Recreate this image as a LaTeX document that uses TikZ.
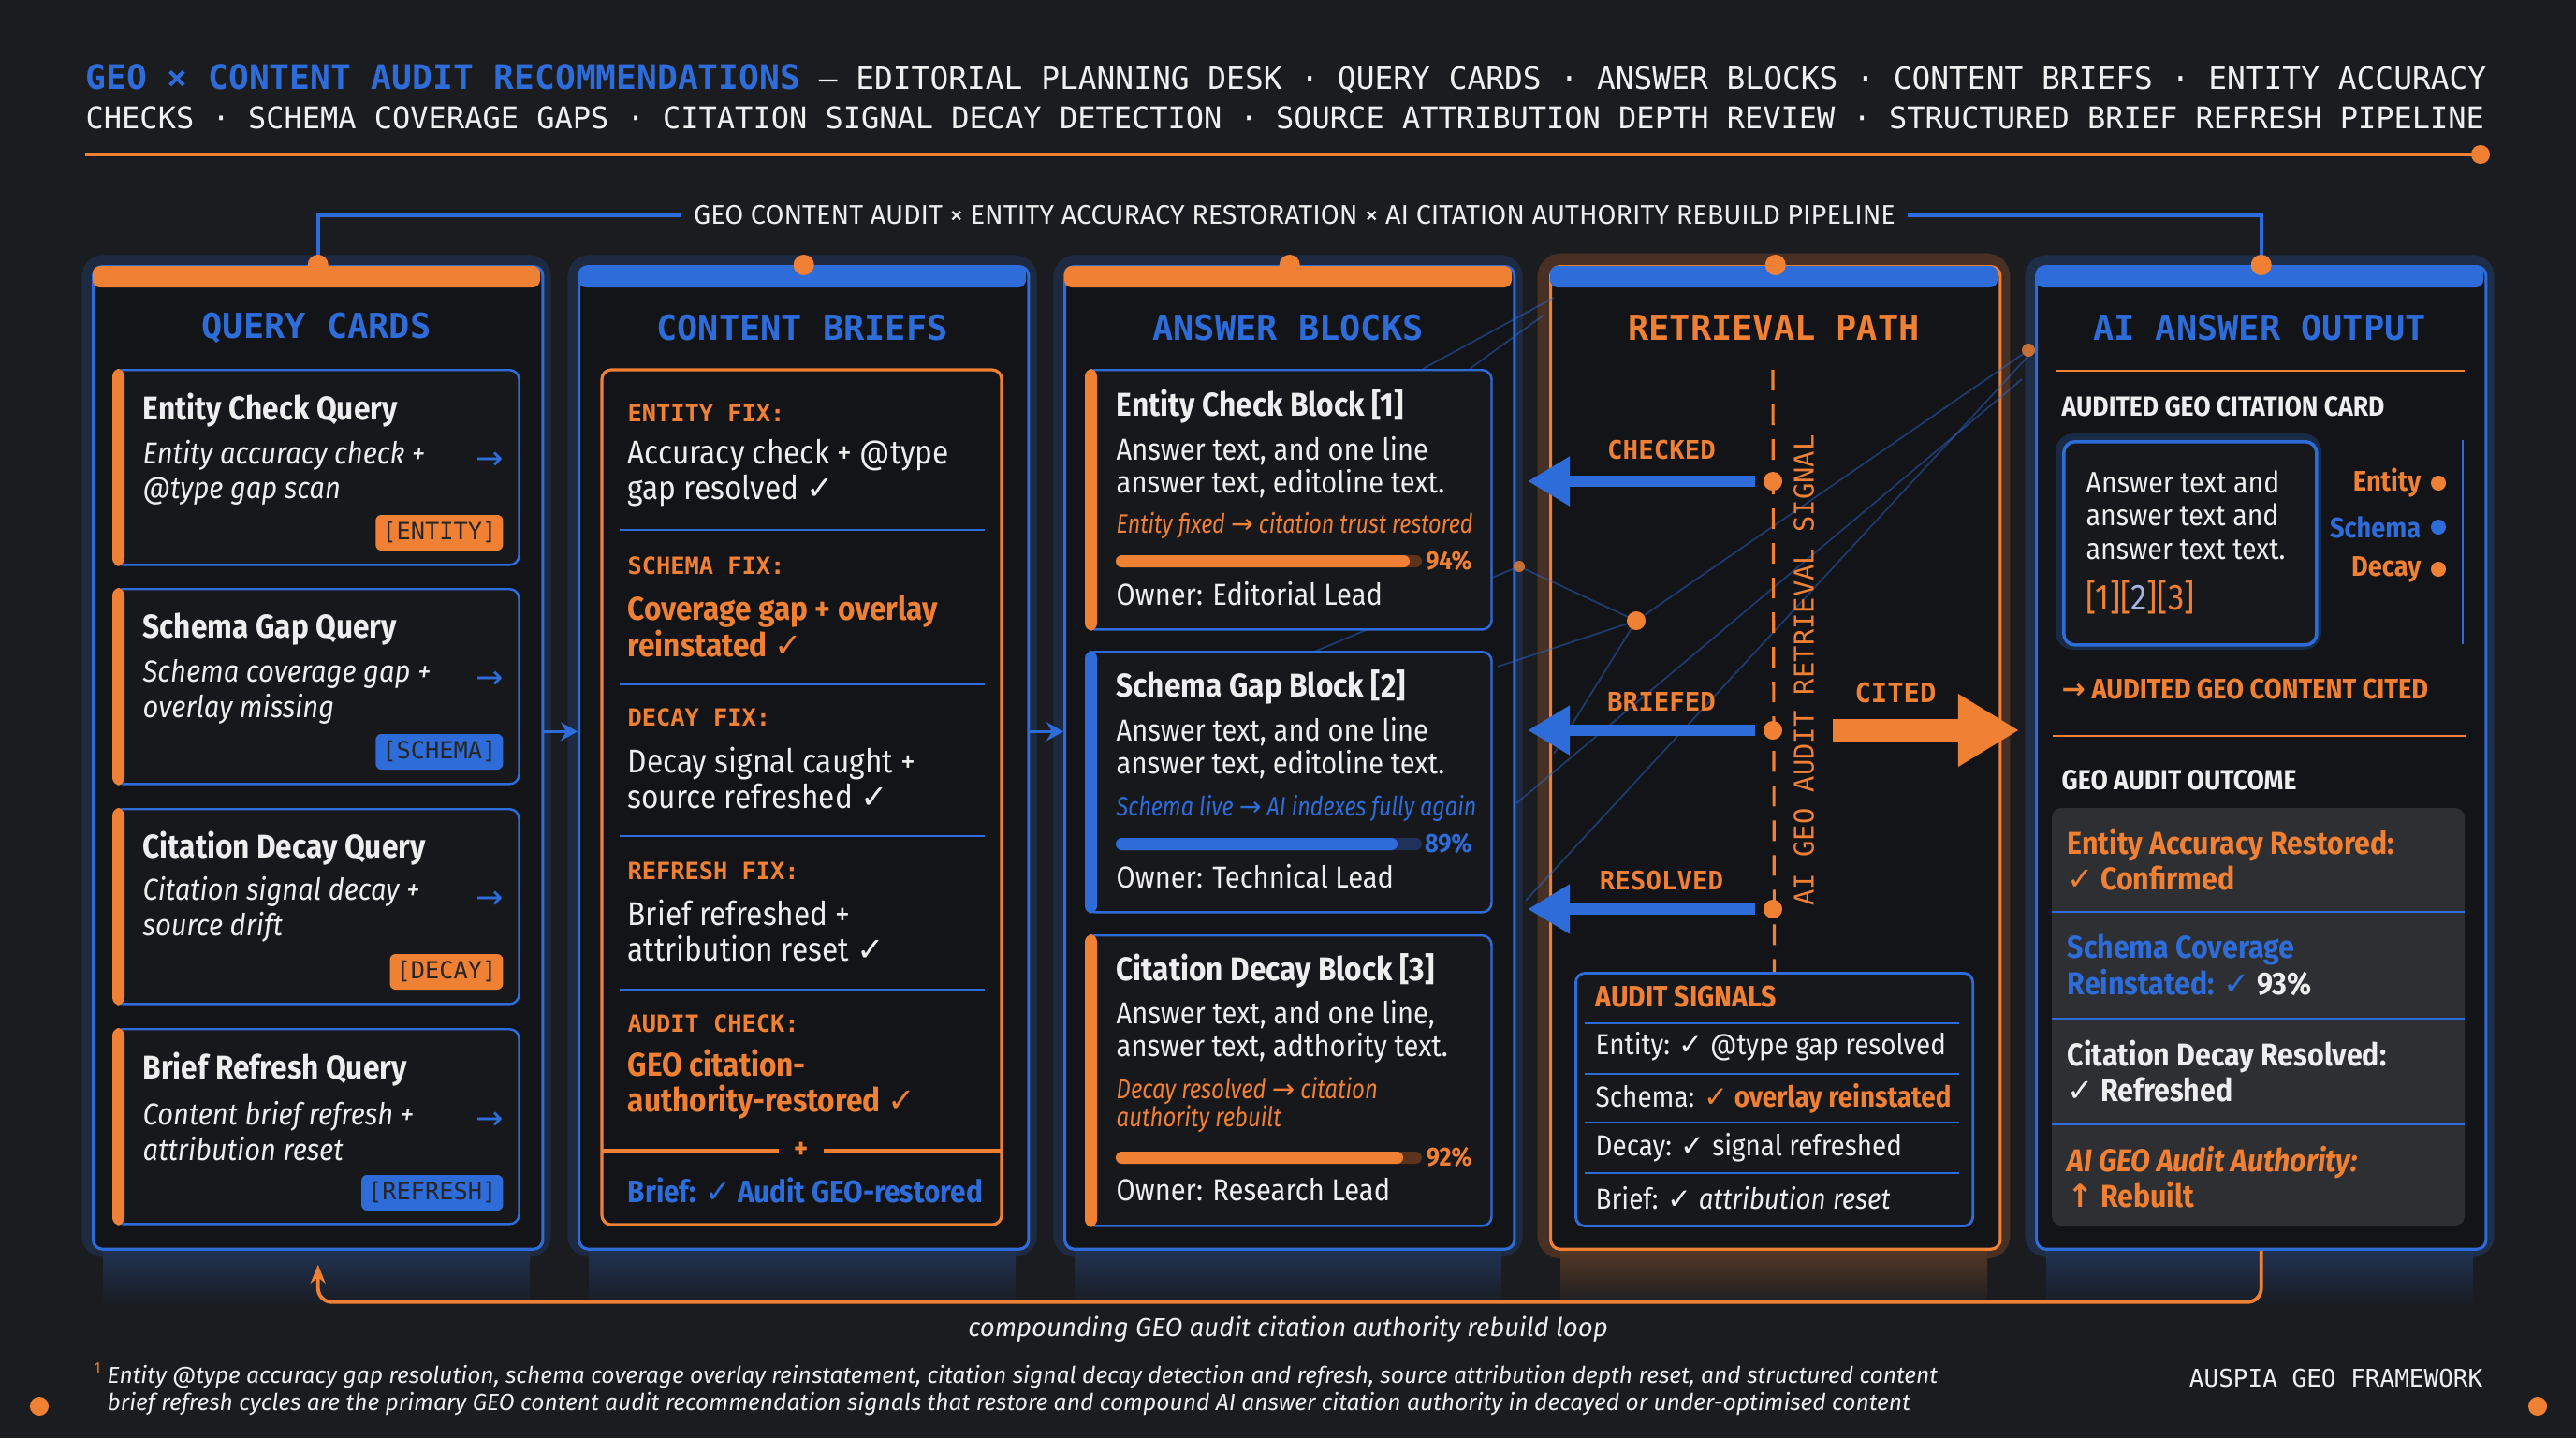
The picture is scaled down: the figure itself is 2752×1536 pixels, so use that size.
\documentclass[tikz,border=0pt]{standalone}
\usepackage{fontspec}
\setmainfont{Fira Sans}[FakeStretch=0.9]
\setmonofont{DejaVu Sans Mono}
\newfontfamily\symfont{DejaVu Sans}
\newfontfamily\condfont{Fira Sans}[FakeStretch=0.82]
\newfontfamily\widefont{Fira Sans}
\usetikzlibrary{arrows.meta}
\usepackage{xcolor}
\definecolor{bgdark}{RGB}{26,28,32}
\definecolor{colbg}{RGB}{19,20,23}
\definecolor{cardbg}{RGB}{23,24,27}
\definecolor{geoorange}{RGB}{240,128,52}
\definecolor{geoblue}{RGB}{46,108,218}
\definecolor{txtwhite}{RGB}{238,238,238}
\definecolor{outgray}{RGB}{46,47,50}
\definecolor{lavender}{RGB}{165,178,222}
\definecolor{trackorange}{RGB}{92,52,30}
\definecolor{trackblue}{RGB}{32,50,92}

\newcommand{\fsz}[2]{\fontsize{#1}{#2}\selectfont}
\newcommand{\ck}{{\symfont ✓}}
\newcommand{\rarr}{{\symfont →}}
\newcommand{\uarr}{{\symfont ↑}}

\begin{document}
\begin{tikzpicture}[x=0.01cm, y=-0.01cm,
    txt/.style={anchor=west, inner sep=0pt, text=txtwhite},
    colshell/.style={anchor=north west, minimum width=4.8cm, minimum height=10.49cm, fill=colbg, rounded corners=0.1cm, line width=0.9pt},
    coltitle/.style={inner sep=0pt, font=\ttfamily\bfseries\fsz{10.5}{12}, text=geoblue},
    card/.style={anchor=north west, minimum width=4.33cm, fill=cardbg, draw=geoblue, line width=0.7pt, rounded corners=0.1cm},
    tag/.style={anchor=east, inner xsep=0.07cm, inner ysep=0pt, minimum height=0.38cm, rounded corners=0.06cm, font=\ttfamily\fsz{7.2}{8}, text=black!85},
    cardtitle/.style={txt, font=\bfseries\fsz{10}{12}},
    monolab/.style={txt, font=\ttfamily\bfseries\fsz{7.2}{9}, text=geoorange},
    divider/.style={geoblue, line width=0.6pt},
    netline/.style={geoblue, line width=0.5pt, opacity=0.45},
    dot/.style={circle, fill=geoorange, inner sep=0pt, minimum size=0.2cm},
    leftarrow/.style={geoblue, line width=3.4pt, -{Triangle[length=0.45cm, width=0.5cm]}},
    steplab/.style={font=\ttfamily\bfseries\fsz{7.8}{9}, text=geoorange, inner sep=0pt}]

    % Background
    \fill[bgdark] (0,0) rectangle (2752,1536);
    \useasboundingbox (0,0) rectangle (2752,1536);

    % Header
    \node[txt, anchor=base west, font=\ttfamily\fsz{9.35}{12}, text=txtwhite!90] (hdr1) at (91,95)
        {{\bfseries\color{geoblue}\fsz{10.3}{12}GEO × CONTENT AUDIT RECOMMENDATIONS} — EDITORIAL PLANNING DESK · QUERY CARDS · ANSWER BLOCKS · CONTENT BRIEFS · ENTITY ACCURACY};
    \node[txt, anchor=base west, font=\ttfamily\fsz{9.1}{12}, text=txtwhite!90] (hdr2) at (91,137)
        {CHECKS · SCHEMA COVERAGE GAPS · CITATION SIGNAL DECAY DETECTION · SOURCE ATTRIBUTION DEPTH REVIEW · STRUCTURED BRIEF REFRESH PIPELINE};
    \draw[geoorange, line width=1.4pt] (91,165) -- (2650,165);
    \fill[geoorange] (2650,165) circle (0.1cm);

    % Column glows
    \draw[geoblue, line width=6pt, opacity=0.18, rounded corners=0.12cm] (98,283) rectangle (578,1332);
    \draw[geoblue, line width=6pt, opacity=0.18, rounded corners=0.12cm] (617,283) rectangle (1097,1332);
    \draw[geoblue, line width=6pt, opacity=0.18, rounded corners=0.12cm] (1136,283) rectangle (1616,1332);
    \draw[geoorange, line width=7pt, opacity=0.22, rounded corners=0.12cm] (1655,283) rectangle (2135,1332);
    \draw[geoblue, line width=6pt, opacity=0.22, rounded corners=0.12cm] (2174,283) rectangle (2654,1332);
    \shade[top color=geoblue!28!bgdark, bottom color=bgdark] (110,1334) rectangle (566,1395);
    \shade[top color=geoblue!28!bgdark, bottom color=bgdark] (629,1334) rectangle (1085,1395);
    \shade[top color=geoblue!28!bgdark, bottom color=bgdark] (1148,1334) rectangle (1604,1395);
    \shade[top color=geoorange!28!bgdark, bottom color=bgdark] (1667,1334) rectangle (2123,1395);
    \shade[top color=geoblue!28!bgdark, bottom color=bgdark] (2186,1334) rectangle (2642,1395);

    % Columns
    \node[colshell, draw=geoblue] (col1) at (98,283) {};
    \node[colshell, draw=geoblue] (col2) at (617,283) {};
    \node[colshell, draw=geoblue] (col3) at (1136,283) {};
    \node[colshell, draw=geoorange] (col4) at (1655,283) {};
    \node[colshell, draw=geoblue] (col5) at (2174,283) {};
    \fill[geoorange, rounded corners=0.08cm] (99,284) rectangle (577,307);
    \fill[geoblue, rounded corners=0.08cm] (618,284) rectangle (1096,307);
    \fill[geoorange, rounded corners=0.08cm] (1137,284) rectangle (1615,307);
    \fill[geoblue, rounded corners=0.08cm] (1656,284) rectangle (2134,307);
    \fill[geoblue, rounded corners=0.08cm] (2175,284) rectangle (2653,307);

    % Pipeline banner
    \node[inner sep=0.12cm, font=\widefont\fsz{8.2}{10}, text=txtwhite] (banner) at (1383,230)
        {GEO CONTENT AUDIT × ENTITY ACCURACY RESTORATION × AI CITATION AUTHORITY REBUILD PIPELINE};
    \draw[geoblue, line width=1.1pt] (col1.north) |- (banner.west);
    \draw[geoblue, line width=1.1pt] (col5.north) |- (banner.east);
    \fill[geoorange] (col1.north) circle (0.11cm);
    \fill[geoorange] (col2.north) circle (0.11cm);
    \fill[geoorange] (col3.north) circle (0.11cm);
    \fill[geoorange] (col4.north) circle (0.11cm);
    \fill[geoorange] (col5.north) circle (0.11cm);

    % Column titles
    \node[coltitle] (t1) at (338,350) {QUERY CARDS};
    \node[coltitle] (t2) at (857,350) {CONTENT BRIEFS};
    \node[coltitle] (t3) at (1376,350) {ANSWER BLOCKS};
    \node[coltitle, text=geoorange] (t4) at (1895,350) {RETRIEVAL PATH};
    \node[coltitle] (t5) at (2414,350) {AI ANSWER OUTPUT};

    % Faint network lines
    \draw[netline] (2167,374) -- (1748,663);
    \draw[netline] (2167,380) -- (1630,962);
    \draw[netline] (2160,405) -- (1620,858);
    \draw[netline] (1748,663) -- (1623,605);
    \draw[netline] (1748,663) -- (1600,712);
    \draw[netline] (1748,663) -- (1660,805);
    \draw[netline] (1623,605) -- (1250,760);
    \draw[netline] (1660,318) -- (1520,394);
    \draw[netline] (1650,336) -- (1570,394);
    \fill[geoorange, opacity=0.8] (2167,374) circle (0.07cm);
    \fill[geoorange, opacity=0.8] (1623,605) circle (0.06cm);
    \fill[geoorange] (1748,663) circle (0.1cm);

    % Query cards
    \node[card, minimum height=2.08cm] (qc1) at (120,394) {};
    \fill[geoorange, rounded corners=0.08cm] (qc1.north west) rectangle ([xshift=0.13cm]qc1.south west);
    \node[cardtitle] (qt1) at (152,438) {Entity Check Query};
    \node[txt, align=left, font=\itshape\fsz{9.2}{10.7}] (qd1) at (152,505) {Entity accuracy check +\\@type gap scan};
    \node[txt, text=geoblue, font=\symfont\fsz{10}{12}] (qa1) at (508,492) {→};
    \node[tag, fill=geoorange] (qg1) at (538,569) {[ENTITY]};

    \node[card, minimum height=2.08cm] (qc2) at (120,628) {};
    \fill[geoorange, rounded corners=0.08cm] (qc2.north west) rectangle ([xshift=0.13cm]qc2.south west);
    \node[cardtitle] (qt2) at (152,672) {Schema Gap Query};
    \node[txt, align=left, font=\itshape\fsz{9.2}{10.7}] (qd2) at (152,739) {Schema coverage gap +\\overlay missing};
    \node[txt, text=geoblue, font=\symfont\fsz{10}{12}] (qa2) at (508,726) {→};
    \node[tag, fill=geoblue] (qg2) at (538,803) {[SCHEMA]};

    \node[card, minimum height=2.08cm] (qc3) at (120,863) {};
    \fill[geoorange, rounded corners=0.08cm] (qc3.north west) rectangle ([xshift=0.13cm]qc3.south west);
    \node[cardtitle] (qt3) at (152,906) {Citation Decay Query};
    \node[txt, align=left, font=\itshape\fsz{9.2}{10.7}] (qd3) at (152,971) {Citation signal decay +\\source drift};
    \node[txt, text=geoblue, font=\symfont\fsz{10}{12}] (qa3) at (508,961) {→};
    \node[tag, fill=geoorange] (qg3) at (538,1038) {[DECAY]};

    \node[card, minimum height=2.08cm] (qc4) at (120,1098) {};
    \fill[geoorange, rounded corners=0.08cm] (qc4.north west) rectangle ([xshift=0.13cm]qc4.south west);
    \node[cardtitle] (qt4) at (152,1142) {Brief Refresh Query};
    \node[txt, align=left, font=\itshape\fsz{9.2}{10.7}] (qd4) at (152,1208) {Content brief refresh +\\attribution reset};
    \node[txt, text=geoblue, font=\symfont\fsz{10}{12}] (qa4) at (508,1197) {→};
    \node[tag, fill=geoblue] (qg4) at (538,1274) {[REFRESH]};

    % Hand-offs between columns
    \draw[geoblue, line width=1pt, -{Stealth[length=0.18cm, width=0.2cm]}] ([yshift=0.28cm]col1.east) -- ([yshift=0.28cm]col2.west);
    \draw[geoblue, line width=1pt, -{Stealth[length=0.18cm, width=0.2cm]}] ([yshift=0.28cm]col2.east) -- ([yshift=0.28cm]col3.west);

    % Content briefs
    \draw[geoorange, line width=0.9pt, rounded corners=0.1cm] (643,395) rectangle (1070,1308);
    \node[monolab] (cl1) at (670,441) {ENTITY FIX:};
    \node[txt, align=left, font=\fsz{10}{11}] (cb1) at (670,505) {Accuracy check + @type\\gap resolved \ck};
    \draw[divider] (662,566) -- (1052,566);
    \node[monolab] (cl2) at (670,604) {SCHEMA FIX:};
    \node[txt, align=left, text=geoorange, font=\bfseries\fsz{10}{11}] (cb2) at (670,669) {Coverage gap + overlay\\reinstated \ck};
    \draw[divider] (662,731) -- (1052,731);
    \node[monolab] (cl3) at (670,766) {DECAY FIX:};
    \node[txt, align=left, font=\fsz{10}{11}] (cb3) at (670,831) {Decay signal caught +\\source refreshed \ck};
    \draw[divider] (662,893) -- (1052,893);
    \node[monolab] (cl4) at (670,930) {REFRESH FIX:};
    \node[txt, align=left, font=\fsz{10}{11}] (cb4) at (670,994) {Brief refreshed +\\attribution reset \ck};
    \draw[divider] (662,1057) -- (1052,1057);
    \node[monolab] (cl5) at (670,1093) {AUDIT CHECK:};
    \node[txt, align=left, text=geoorange, font=\bfseries\fsz{10}{11}] (cb5) at (670,1158) {GEO citation-\\authority-restored \ck};
    \node[inner sep=0pt, text=geoorange, font=\bfseries\fsz{9}{10}] (plus) at (856,1229) {+};
    \draw[geoorange, line width=0.9pt] (643,1229) -- (832,1229);
    \draw[geoorange, line width=0.9pt] (880,1229) -- (1070,1229);
    \node[txt, text=geoblue, font=\bfseries\fsz{9.4}{12}] (cbrief) at (670,1271) {Brief: \ck{} Audit GEO-restored};

    % Answer blocks
    \node[card, minimum height=2.77cm] (ab1) at (1159,394) {};
    \fill[geoorange, rounded corners=0.08cm] (ab1.north west) rectangle ([xshift=0.13cm]ab1.south west);
    \node[cardtitle] (abt1) at (1192,434) {Entity Check Block [1]};
    \node[txt, align=left, font=\fsz{9.2}{9.8}] (abx1) at (1192,499) {Answer text, and one line\\answer text, editoline text.};
    \node[txt, text=geoorange, font=\condfont\itshape\fsz{8.1}{10}] (abn1) at (1192,561) {Entity fixed \rarr{} citation trust restored};
    \fill[trackorange, rounded corners=0.065cm] (1192,593) rectangle (1519,606);
    \fill[geoorange, rounded corners=0.065cm] (1192,593) rectangle (1506,606);
    \node[anchor=east, inner sep=0pt, text=geoorange, font=\bfseries\fsz{8}{10}] (abp1) at (1573,599) {94\%};
    \node[txt, font=\fsz{9.2}{10}] (abo1) at (1192,634) {Owner: Editorial Lead};

    \node[card, minimum height=2.78cm] (ab2) at (1159,695) {};
    \fill[geoblue, rounded corners=0.08cm] (ab2.north west) rectangle ([xshift=0.13cm]ab2.south west);
    \node[cardtitle] (abt2) at (1192,734) {Schema Gap Block [2]};
    \node[txt, align=left, font=\fsz{9.2}{9.8}] (abx2) at (1192,799) {Answer text, and one line\\answer text, editoline text.};
    \node[txt, text=geoblue, font=\condfont\itshape\fsz{8.1}{10}] (abn2) at (1192,863) {Schema live \rarr{} AI indexes fully again};
    \fill[trackblue, rounded corners=0.065cm] (1192,895) rectangle (1519,908);
    \fill[geoblue, rounded corners=0.065cm] (1192,895) rectangle (1493,908);
    \node[anchor=east, inner sep=0pt, text=geoblue, font=\bfseries\fsz{8}{10}] (abp2) at (1573,901) {89\%};
    \node[txt, font=\fsz{9.2}{10}] (abo2) at (1192,936) {Owner: Technical Lead};

    \node[card, minimum height=3.10cm] (ab3) at (1159,998) {};
    \fill[geoorange, rounded corners=0.08cm] (ab3.north west) rectangle ([xshift=0.13cm]ab3.south west);
    \node[cardtitle] (abt3) at (1192,1037) {Citation Decay Block [3]};
    \node[txt, align=left, font=\fsz{9.2}{9.8}] (abx3) at (1192,1102) {Answer text, and one line,\\answer text, adthority text.};
    \node[txt, align=left, text=geoorange, font=\condfont\itshape\fsz{8.3}{8.6}] (abn3) at (1192,1180) {Decay resolved \rarr{} citation\\authority rebuilt};
    \fill[trackorange, rounded corners=0.065cm] (1192,1230) rectangle (1519,1243);
    \fill[geoorange, rounded corners=0.065cm] (1192,1230) rectangle (1499,1243);
    \node[anchor=east, inner sep=0pt, text=geoorange, font=\bfseries\fsz{8}{10}] (abp3) at (1573,1236) {92\%};
    \node[txt, font=\fsz{9.2}{10}] (abo3) at (1192,1271) {Owner: Research Lead};

    % Retrieval path
    \node[draw=geoblue, line width=0.8pt, fill=cardbg, rounded corners=0.1cm, anchor=north west,
          minimum width=4.24cm, minimum height=2.70cm] (sigbox) at (1682,1038) {};
    \coordinate (sigtop) at (1894,395);
    \draw[geoorange, line width=0.9pt, dash pattern=on 0.22cm off 0.15cm] (sigtop) -- (sigbox.north);
    \node[dot] (dck) at (1894,514) {};
    \node[dot] (dbr) at (1894,780) {};
    \node[dot] (drs) at (1894,971) {};
    \coordinate (ckend) at (1632,514);
    \coordinate (brend) at (1632,780);
    \coordinate (rsend) at (1632,971);
    \draw[leftarrow, shorten <=0.08cm] (dck) -- (ckend);
    \draw[leftarrow, shorten <=0.08cm] (dbr) -- (brend);
    \draw[leftarrow, shorten <=0.08cm] (drs) -- (rsend);
    \node[steplab] (lck) at (1775,481) {CHECKED};
    \node[steplab] (lbr) at (1775,749) {BRIEFED};
    \node[steplab] (lrs) at (1775,940) {RESOLVED};
    \node[rotate=90, inner sep=0pt, font=\ttfamily\fsz{8.2}{10}, text=geoorange] (sigtxt) at (1927,716) {AI GEO AUDIT RETRIEVAL SIGNAL};
    \node[steplab, font=\ttfamily\bfseries\fsz{8.2}{10}] (lct) at (2025,740) {CITED};
    \draw[geoorange, line width=7pt, -{Triangle[length=0.65cm, width=0.73cm]}, shorten <=0.53cm, shorten >=0.17cm] (dbr) -- (dbr -| col5.west);

    \node[txt, text=geoorange, font=\bfseries\fsz{9}{10}] (sgh) at (1704,1065) {AUDIT SIGNALS};
    \draw[divider] (1693,1093) -- (2093,1093);
    \node[txt, font=\fsz{8.8}{10}] (sg1) at (1704,1118) {Entity: \ck{} @type gap resolved};
    \draw[divider] (1693,1147) -- (2093,1147);
    \node[txt, font=\fsz{8.8}{10}] (sg2) at (1704,1173) {Schema: {\color{geoorange}\bfseries\ck{} overlay reinstated}};
    \draw[divider] (1693,1199) -- (2093,1199);
    \node[txt, font=\fsz{8.8}{10}] (sg3) at (1704,1226) {Decay: \ck{} signal refreshed};
    \draw[divider] (1693,1253) -- (2093,1253);
    \node[txt, font=\fsz{8.8}{10}] (sg4) at (1704,1280) {Brief: \ck{} \textit{attribution reset}};

    % AI answer output
    \draw[geoorange, line width=0.8pt] (2196,396) -- (2633,396);
    \node[txt, font=\bfseries\fsz{8.4}{10}] (cch) at (2202,434) {AUDITED GEO CITATION CARD};
    \draw[geoblue, opacity=0.25, line width=4pt, rounded corners=0.12cm] (2203,470) rectangle (2473,687);
    \node[draw=geoblue, line width=1pt, fill=cardbg, rounded corners=0.12cm, anchor=north west,
          minimum width=2.70cm, minimum height=2.17cm] (ccard) at (2203,470) {};
    \node[txt, align=left, font=\fsz{9}{10.1}] (cctx) at (2228,550) {Answer text and\\answer text and\\answer text text.};
    \node[txt, text=geoorange, font=\fsz{11}{12}] (ccref) at (2228,638) {[1][{\color{lavender}2}][3]};
    \node[txt, anchor=east, text=geoorange, font=\bfseries\fsz{8.6}{10}] (lge) at (2587,516) {Entity};
    \node[txt, anchor=east, text=geoblue, font=\bfseries\fsz{8.6}{10}] (lgs) at (2587,563) {Schema};
    \node[txt, anchor=east, text=geoorange, font=\bfseries\fsz{8.6}{10}] (lgd) at (2587,608) {Decay};
    \node[dot, minimum size=0.16cm] (lged) at (2605,516) {};
    \node[dot, minimum size=0.16cm, fill=geoblue] (lgsd) at (2605,563) {};
    \node[dot, minimum size=0.16cm] (lgdd) at (2605,608) {};
    \draw[geoblue, line width=0.7pt] (2631,470) -- (2631,688);
    \node[txt, text=geoorange, font=\bfseries\fsz{8.6}{10}] (cited) at (2202,736) {\rarr{} AUDITED GEO CONTENT CITED};
    \draw[geoorange, line width=0.8pt] (2193,786) -- (2634,786);
    \node[txt, font=\bfseries\fsz{8.4}{10}] (och) at (2202,833) {GEO AUDIT OUTCOME};
    \fill[outgray, rounded corners=0.1cm] (2192,863) rectangle (2633,1309);
    \draw[divider] (2192,974) -- (2633,974);
    \draw[divider] (2192,1088) -- (2633,1088);
    \draw[divider] (2192,1201) -- (2633,1201);
    \node[txt, align=left, text=geoorange, font=\bfseries\fsz{9.6}{11}] (oc1) at (2208,918) {Entity Accuracy Restored:\\\ck{} Confirmed};
    \node[txt, align=left, text=geoblue, font=\bfseries\fsz{9.6}{11}] (oc2) at (2208,1031) {Schema Coverage\\Reinstated: \ck{} {\color{txtwhite}93\%}};
    \node[txt, align=left, font=\bfseries\fsz{9.6}{11}] (oc3) at (2208,1144) {Citation Decay Resolved:\\\ck{} Refreshed};
    \node[txt, align=left, text=geoorange, font=\bfseries\fsz{9.6}{11}] (oc4) at (2208,1257) {\textit{AI GEO Audit Authority:}\\\uarr{} Rebuilt};

    % Feedback loop
    \draw[geoorange, line width=1.1pt, rounded corners=0.15cm, -{Stealth[length=0.2cm, width=0.16cm]}, shorten >=0.15cm]
        (col5.south) -- ++(0,55) -| (col1.south);
    \node[inner sep=0pt, font=\widefont\itshape\fsz{7.85}{10}, text=txtwhite] (looplab) at (1376,1420) {compounding GEO audit citation authority rebuild loop};

    % Footnote
    \node[txt, text=geoorange, font=\fsz{5}{6}] (fnmark) at (100,1462) {1};
    \node[txt, align=left, font=\widefont\itshape\fsz{7}{8.5}, text=txtwhite!92] (fnote) at (114,1485)
        {Entity @type accuracy gap resolution, schema coverage overlay reinstatement, citation signal decay detection and refresh, source attribution depth reset, and structured content\\brief refresh cycles are the primary GEO content audit recommendation signals that restore and compound AI answer citation authority in decayed or under-optimised content};
    \node[anchor=east, inner sep=0pt, font=\ttfamily\fsz{7.4}{9}, text=txtwhite] (brand) at (2653,1472) {AUSPIA GEO FRAMEWORK};
    \fill[geoorange] (42,1502) circle (0.1cm);
    \fill[geoorange] (2711,1502) circle (0.1cm);
\end{tikzpicture}
\end{document}
